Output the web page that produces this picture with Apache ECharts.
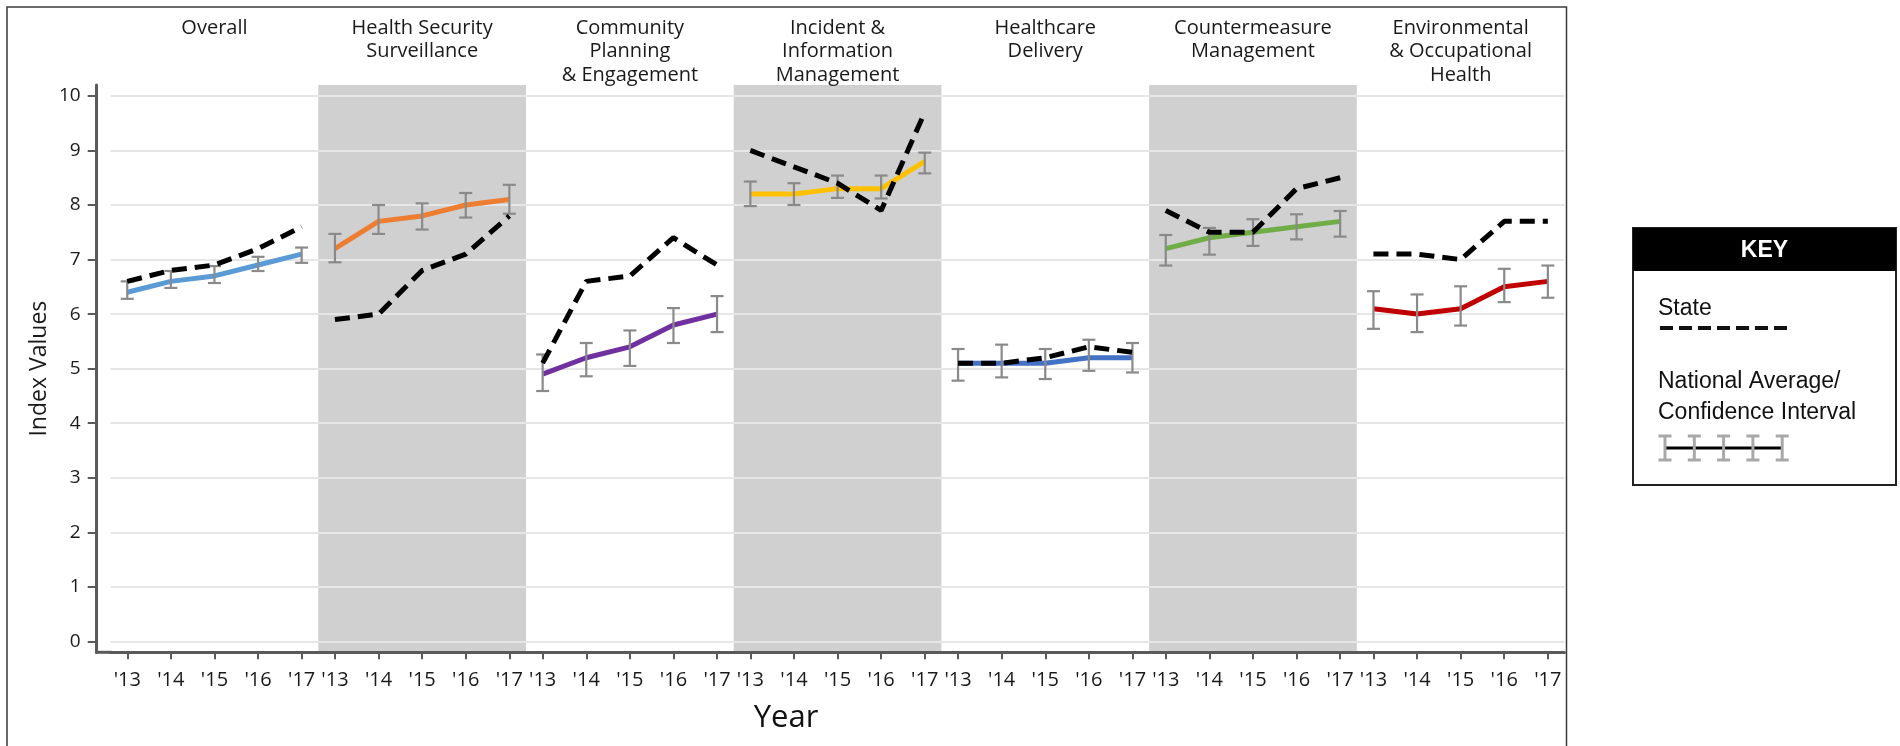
<!DOCTYPE html>
<html>
<head>
<meta charset="utf-8">
<script src="https://cdn.jsdelivr.net/npm/echarts@6/dist/echarts.min.js"></script>
<style>
  html, body { margin: 0; padding: 0; background: #ffffff; }
  #chart { width: 1900px; height: 746px; }
</style>
</head>
<body>
<div id="chart"></div>
<script>
// ---------------- DATA ----------------
const years = ["'13", "'14", "'15", "'16", "'17"];
const yTicks = [0, 1, 2, 3, 4, 5, 6, 7, 8, 9, 10];
const panelTitles = [
  'Overall',
  'Health Security\nSurveillance',
  'Community\nPlanning\n& Engagement',
  'Incident &\nInformation\nManagement',
  'Healthcare\nDelivery',
  'Countermeasure\nManagement',
  'Environmental\n& Occupational\nHealth'
];

const stateOverall   = [6.6, 6.8, 6.9, 7.2, 7.6];
const natOverall     = [6.4, 6.6, 6.7, 6.9, 7.1];
const ciLowOverall   = [6.28, 6.48, 6.57, 6.79, 6.94];
const ciHighOverall  = [6.60, 6.79, 6.88, 7.05, 7.22];

const stateHSS   = [5.9, 6.0, 6.8, 7.1, 7.8];
const natHSS     = [7.2, 7.7, 7.8, 8.0, 8.1];
const ciLowHSS   = [6.95, 7.47, 7.55, 7.77, 7.84];
const ciHighHSS  = [7.47, 8.00, 8.03, 8.22, 8.37];

const stateCPE   = [5.1, 6.6, 6.7, 7.4, 6.9];
const natCPE     = [4.9, 5.2, 5.4, 5.8, 6.0];
const ciLowCPE   = [4.59, 4.86, 5.05, 5.47, 5.67];
const ciHighCPE  = [5.26, 5.47, 5.70, 6.11, 6.33];

const stateIIM   = [9.0, 8.7, 8.4, 7.9, 9.7];
const natIIM     = [8.2, 8.2, 8.3, 8.3, 8.8];
const ciLowIIM   = [7.98, 8.00, 8.13, 8.12, 8.58];
const ciHighIIM  = [8.43, 8.40, 8.54, 8.54, 8.96];

const stateHD    = [5.1, 5.1, 5.2, 5.4, 5.3];
const natHD      = [5.1, 5.1, 5.1, 5.2, 5.2];
const ciLowHD    = [4.78, 4.84, 4.81, 4.96, 4.93];
const ciHighHD   = [5.36, 5.44, 5.36, 5.53, 5.47];

const stateCM    = [7.9, 7.5, 7.5, 8.3, 8.5];
const natCM      = [7.2, 7.4, 7.5, 7.6, 7.7];
const ciLowCM    = [6.89, 7.09, 7.25, 7.37, 7.42];
const ciHighCM   = [7.45, 7.58, 7.74, 7.83, 7.89];

const stateEOH   = [7.1, 7.1, 7.0, 7.7, 7.7];
const natEOH     = [6.1, 6.0, 6.1, 6.5, 6.6];
const ciLowEOH   = [5.73, 5.67, 5.79, 6.22, 6.30];
const ciHighEOH  = [6.42, 6.36, 6.51, 6.83, 6.89];

// ---------------- STYLE / LAYOUT ----------------
const panelColors = ['#5b9bd5', '#ed7d31', '#7030a0', '#ffc000', '#4472c4', '#70ad47', '#c00000'];
const shaded = [false, true, false, true, false, true, false];

const panels = [
  { state: stateOverall, nat: natOverall, lo: ciLowOverall, hi: ciHighOverall },
  { state: stateHSS, nat: natHSS, lo: ciLowHSS, hi: ciHighHSS },
  { state: stateCPE, nat: natCPE, lo: ciLowCPE, hi: ciHighCPE },
  { state: stateIIM, nat: natIIM, lo: ciLowIIM, hi: ciHighIIM },
  { state: stateHD, nat: natHD, lo: ciLowHD, hi: ciHighHD },
  { state: stateCM, nat: natCM, lo: ciLowCM, hi: ciHighCM },
  { state: stateEOH, nat: natEOH, lo: ciLowEOH, hi: ciHighEOH }
];

const LAY = {
  axisX: 96.7, panelLeft: 110.6, panelWidth: 207.7, pad: 0.382,
  top: 85, axisY: 652.3
};
const gridHeight = LAY.axisY - LAY.top;
const FONT = '"Open Sans", "Noto Sans", sans-serif';
const KEYFONT = '"Liberation Sans", Arial, sans-serif';

const grids = [], xAxes = [], yAxes = [], series = [];

panels.forEach((p, i) => {
  grids.push({
    left: LAY.panelLeft + i * LAY.panelWidth,
    top: LAY.top,
    width: LAY.panelWidth,
    height: gridHeight,
    show: shaded[i],
    backgroundColor: shaded[i] ? '#d0d0d0' : 'transparent',
    borderWidth: 0,
    containLabel: false
  });
  xAxes.push({
    type: 'value', gridIndex: i,
    min: -LAY.pad, max: 4 + LAY.pad,
    axisLine: { show: true, onZero: false, lineStyle: { color: '#5a5a5a', width: 3 } },
    axisTick: { show: true, customValues: [0, 1, 2, 3, 4], length: 7, lineStyle: { color: '#5a5a5a', width: 2 } },
    axisLabel: {
      show: true, customValues: [0, 1, 2, 3, 4], margin: 18,
      formatter: v => years[Math.round(v)],
      fontFamily: FONT, fontSize: 20, color: '#1a1a1a'
    },
    splitLine: { show: false }
  });
  yAxes.push({
    type: 'value', gridIndex: i,
    min: -0.2, max: 10.2,
    offset: i === 0 ? (LAY.panelLeft - LAY.axisX) : 0,
    name: i === 0 ? 'Index Values' : '',
    nameLocation: 'middle', nameGap: 46,
    nameTextStyle: { fontFamily: FONT, fontSize: 23, color: '#1a1a1a' },
    axisLine: { show: i === 0, onZero: false, lineStyle: { color: '#5a5a5a', width: 3 } },
    axisTick: { show: i === 0, customValues: yTicks, length: 9, lineStyle: { color: '#5a5a5a', width: 2 } },
    axisLabel: { show: i === 0, customValues: yTicks, margin: 16, fontFamily: FONT, fontSize: 19, color: '#1a1a1a' },
    splitLine: { show: true, lineStyle: { color: '#e6e6e6', width: 2 } }
  });

  series.push({
    type: 'line', xAxisIndex: i, yAxisIndex: i,
    data: p.nat.map((v, k) => [k, v]),
    symbol: 'none', z: 2, silent: true,
    lineStyle: { color: panelColors[i], width: 5 }
  });
  series.push({
    type: 'custom', xAxisIndex: i, yAxisIndex: i, z: 3, silent: true,
    data: p.lo.map((v, k) => [k, v, p.hi[k]]),
    encode: { x: 0, y: [1, 2] },
    renderItem: (params, api) => {
      const x = api.value(0);
      const a = api.coord([x, api.value(1)]);
      const b = api.coord([x, api.value(2)]);
      const w = 6.5;
      const st = { stroke: '#8a8a8a', lineWidth: 2.2 };
      return {
        type: 'group',
        children: [
          { type: 'line', shape: { x1: a[0], y1: a[1], x2: b[0], y2: b[1] }, style: st },
          { type: 'line', shape: { x1: a[0] - w, y1: a[1], x2: a[0] + w, y2: a[1] }, style: st },
          { type: 'line', shape: { x1: b[0] - w, y1: b[1], x2: b[0] + w, y2: b[1] }, style: st }
        ]
      };
    }
  });
  series.push({
    type: 'line', xAxisIndex: i, yAxisIndex: i,
    data: p.state.map((v, k) => [k, v]),
    symbol: 'none', z: 4, silent: true,
    lineStyle: { color: '#000000', width: 5, type: [15, 8], cap: 'butt' }
  });
});

// ---------------- GRAPHICS (titles, frame, key) ----------------
const graphics = [];
// outer frame
graphics.push({
  type: 'rect', silent: true, z: 0,
  shape: { x: 7, y: 7, width: 1559.5, height: 800 },
  style: { fill: 'none', stroke: '#3a3a3a', lineWidth: 1.5 }
});
// x-axis piece between y-axis and first panel
graphics.push({
  type: 'line', silent: true, z: 10,
  shape: { x1: LAY.axisX - 1.5, y1: LAY.axisY, x2: LAY.panelLeft + 1, y2: LAY.axisY },
  style: { stroke: '#5a5a5a', lineWidth: 3 }
});
// panel titles
panelTitles.forEach((t, i) => {
  graphics.push({
    type: 'text', silent: true,
    style: {
      text: t,
      x: LAY.panelLeft + (i + 0.5) * LAY.panelWidth,
      y: 16.7,
      textAlign: 'center', textVerticalAlign: 'top',
      font: 'normal 20px ' + FONT,
      lineHeight: 23.3,
      fill: '#1a1a1a'
    }
  });
});
// x axis title
graphics.push({
  type: 'text', silent: true,
  style: {
    text: 'Year', x: 786, y: 718,
    textAlign: 'center', textVerticalAlign: 'middle',
    font: 'normal 31px ' + FONT, fill: '#111'
  }
});
// key box
const K = { x: 1633, y: 228, w: 263, h: 257, head: 43 };
graphics.push({
  type: 'rect', silent: true,
  shape: { x: K.x, y: K.y, width: K.w, height: K.h },
  style: { fill: '#ffffff', stroke: '#222', lineWidth: 2 }
});
graphics.push({
  type: 'rect', silent: true,
  shape: { x: K.x, y: K.y, width: K.w, height: K.head },
  style: { fill: '#000000' }
});
graphics.push({
  type: 'text', silent: true,
  style: {
    text: 'KEY', x: K.x + K.w / 2, y: K.y + K.head / 2 + 1,
    textAlign: 'center', textVerticalAlign: 'middle',
    font: 'bold 23px ' + KEYFONT, fill: '#ffffff'
  }
});
graphics.push({
  type: 'text', silent: true,
  style: {
    text: 'State', x: K.x + 25, y: 309,
    textAlign: 'left', textVerticalAlign: 'middle',
    font: 'normal 23px ' + KEYFONT, fill: '#111'
  }
});
graphics.push({
  type: 'line', silent: true,
  shape: { x1: K.x + 27, y1: 328, x2: K.x + 154, y2: 328 },
  style: { stroke: '#111', lineWidth: 4, lineDash: [13, 6] }
});
graphics.push({
  type: 'text', silent: true,
  style: {
    text: 'National Average/\nConfidence Interval', x: K.x + 25, y: 397,
    textAlign: 'left', textVerticalAlign: 'middle',
    font: 'normal 23px ' + KEYFONT, lineHeight: 31, fill: '#111'
  }
});
// key sample: line with CI bars
graphics.push({
  type: 'line', silent: true,
  shape: { x1: K.x + 32, y1: 448, x2: K.x + 149, y2: 448 },
  style: { stroke: '#000', lineWidth: 3 }
});
for (let k = 0; k < 5; k++) {
  const cx = K.x + 32 + k * 29.3;
  const st = { stroke: '#a8a8a8', lineWidth: 3 };
  graphics.push({ type: 'line', silent: true, shape: { x1: cx, y1: 436, x2: cx, y2: 460 }, style: st });
  graphics.push({ type: 'line', silent: true, shape: { x1: cx - 6.5, y1: 436, x2: cx + 6.5, y2: 436 }, style: st });
  graphics.push({ type: 'line', silent: true, shape: { x1: cx - 6.5, y1: 460, x2: cx + 6.5, y2: 460 }, style: st });
}

const chart = echarts.init(document.getElementById('chart'), null, { renderer: 'canvas' });
chart.setOption({
  animation: false,
  backgroundColor: '#ffffff',
  grid: grids,
  xAxis: xAxes,
  yAxis: yAxes,
  series: series,
  graphic: graphics
});
</script>
</body>
</html>
